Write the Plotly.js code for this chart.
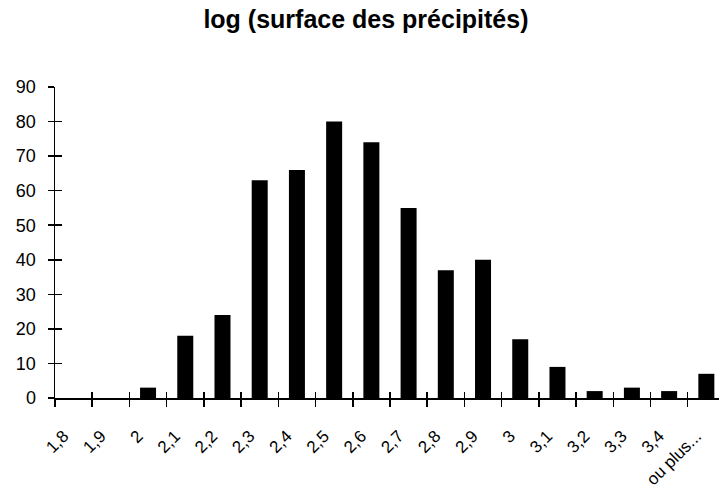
<!DOCTYPE html>
<html>
<head>
<meta charset="utf-8">
<script src="https://cdn.plot.ly/plotly-3.0.1.min.js"></script>
<style>html,body{margin:0;padding:0;background:#fff;}#chart{width:719px;height:494px;}</style>
</head>
<body>
<div id="chart"></div>
<script>
const categories = ["1,8","1,9","2","2,1","2,2","2,3","2,4","2,5","2,6","2,7","2,8","2,9","3","3,1","3,2","3,3","3,4","ou plus..."];
const frequencies = [0,0,3,18,24,63,66,80,74,55,37,40,17,9,2,3,2,7];
const yTicks = [0,10,20,30,40,50,60,70,80,90];

const xRange = [-0.5, 17.34];
const fam = "Liberation Sans, Arial, sans-serif";

const traces = [
  {type: "bar", x: categories, y: frequencies, marker: {color: "#000", line: {width: 0}}, width: 0.43, hoverinfo: "skip"},
  {type: "scatter", mode: "markers", x: categories, y: frequencies.map(() => 0), xaxis: "x2", yaxis: "y2",
   marker: {opacity: 0}, hoverinfo: "skip", showlegend: false}
];

const layout = {
  width: 719, height: 494,
  margin: {l: 55, r: 0, t: 87, b: 96},
  paper_bgcolor: "#fff", plot_bgcolor: "#fff",
  showlegend: false,
  font: {family: fam, size: 17, color: "#000"},
  title: {text: "<b>log (surface des précipités)</b>", font: {family: fam, size: 25, color: "#000"},
          x: 0.509, xanchor: "center", xref: "container", y: 0.9615, yanchor: "middle", yref: "container"},
  xaxis: {type: "category", categoryorder: "array", categoryarray: categories, range: xRange,
          showline: true, linecolor: "#000", linewidth: 1.5, showgrid: false, zeroline: false,
          ticks: "outside", tickson: "boundaries", ticklen: 7, tickwidth: 1.5, tickcolor: "#000",
          tickangle: -45, tickfont: {family: fam, size: 17, color: "#000"},
          ticklabelshift: -10, ticklabelstandoff: 20, fixedrange: true},
  xaxis2: {type: "category", categoryorder: "array", categoryarray: categories, range: xRange,
           overlaying: "x", anchor: "y", side: "bottom", showline: false, showgrid: false, zeroline: false,
           ticks: "inside", tickson: "boundaries", ticklen: 6, tickwidth: 1.5, tickcolor: "#000",
           showticklabels: false, fixedrange: true},
  yaxis: {range: [0, 90], tickvals: yTicks, ticktext: yTicks.map(String),
          showline: true, linecolor: "#000", linewidth: 1.5, showgrid: false, zeroline: false,
          ticks: "outside", ticklen: 6, tickwidth: 1.5, tickcolor: "#000",
          tickfont: {family: fam, size: 18, color: "#000"}, ticklabelstandoff: 8, fixedrange: true},
  yaxis2: {range: [0, 90], tickvals: yTicks, overlaying: "y", anchor: "x", side: "left",
           showline: false, showgrid: false, zeroline: false,
           ticks: "inside", ticklen: 7, tickwidth: 1.5, tickcolor: "#000", showticklabels: false, fixedrange: true}
};

Plotly.newPlot("chart", traces, layout, {displayModeBar: false, staticPlot: true});
</script>
</body>
</html>
